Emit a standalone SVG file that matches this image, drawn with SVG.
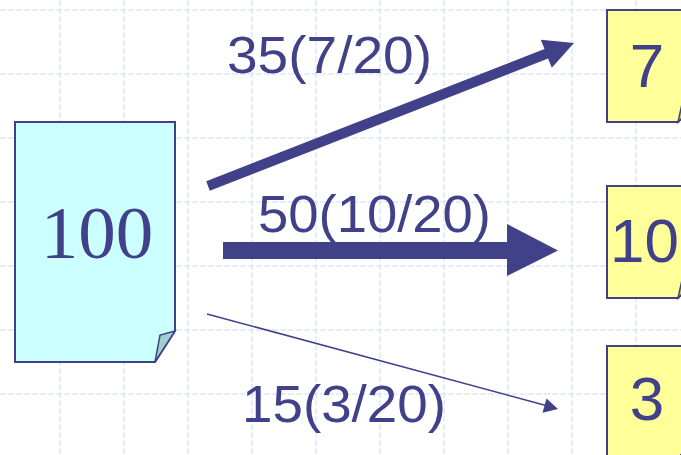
<svg xmlns="http://www.w3.org/2000/svg" width="681" height="455" viewBox="0 0 681 455">
<style>
.grid line{stroke:#cddbfa;stroke-width:1;stroke-dasharray:6 2}
.doc{stroke:#414189;stroke-width:2;stroke-linejoin:miter}
.cyan{fill:#ccffff}
.yel{fill:#ffff99}
.fold{fill:#9fcfcf;stroke:#414189;stroke-width:1.5}
.foldy{fill:#cccc66;stroke:#414189;stroke-width:1.5}
.lbl{font-family:"Liberation Sans",Arial,sans-serif;font-size:51px;fill:#414189}
.num{font-family:"Liberation Sans",Arial,sans-serif;font-size:62px;fill:#414189;text-anchor:middle}
.ser{font-family:"Liberation Serif","Times New Roman",serif;font-size:75px;fill:#414189;text-anchor:middle}
.arr{fill:#414189}
</style>
<rect width="681" height="455" fill="#ffffff"/>
<g class="grid">
<line x1="60" y1="0" x2="60" y2="455"/><line x1="124" y1="0" x2="124" y2="455"/><line x1="188" y1="0" x2="188" y2="455"/><line x1="252" y1="0" x2="252" y2="455"/><line x1="316" y1="0" x2="316" y2="455"/><line x1="380" y1="0" x2="380" y2="455"/><line x1="444" y1="0" x2="444" y2="455"/><line x1="508" y1="0" x2="508" y2="455"/><line x1="572" y1="0" x2="572" y2="455"/><line x1="636" y1="0" x2="636" y2="455"/>
<line x1="0" y1="10" x2="681" y2="10"/><line x1="0" y1="74" x2="681" y2="74"/><line x1="0" y1="138" x2="681" y2="138"/><line x1="0" y1="202" x2="681" y2="202"/><line x1="0" y1="266" x2="681" y2="266"/><line x1="0" y1="330" x2="681" y2="330"/><line x1="0" y1="394" x2="681" y2="394"/>
</g>
<g id="node-100">
<path class="doc cyan" d="M15,122 H175 V331 L155,362 H15 Z"/>
<path class="fold" d="M155,362 L160,335 L175,331 Z"/>
<text class="ser" x="97" y="258">100</text>
</g>
<g id="node-7">
<path class="doc yel" d="M607,10 H700 V100 L678,122 H607 Z"/>
<path class="foldy" d="M678,122 L682,104 L700,100 Z"/>
<text class="num" x="647" y="87">7</text>
</g>
<g id="node-10">
<path class="doc yel" d="M607,186 H700 V276 L678,298 H607 Z"/>
<path class="foldy" d="M678,298 L682,280 L700,276 Z"/>
<text class="num" x="610" y="262" style="text-anchor:start">10</text>
</g>
<g id="node-3">
<path class="doc yel" d="M607,346 H700 V436 L678,458 H607 Z"/>
<text class="num" x="647" y="420">3</text>
</g>
<g id="connectors">
<polygon class="arr" points="209.8,190.7 206.2,181.3 544.5,49.1 540.8,39.8 574,43 551.8,67.8 548.1,58.5"/>
<polygon class="arr" points="223,242 507,242 507,224 558,250.5 507,276 507,259 223,259"/>
<line x1="207" y1="314" x2="546" y2="405.5" stroke="#414189" stroke-width="1.6"/>
<polygon class="arr" points="558,409 542.5,412.8 546.5,398.5"/>
</g>
<g id="labels">
<text class="lbl" x="227" y="73" textLength="205" lengthAdjust="spacingAndGlyphs">35(7/20)</text>
<text class="lbl" x="258" y="232" textLength="233" lengthAdjust="spacingAndGlyphs">50(10/20)</text>
<text class="lbl" x="242" y="422" textLength="204" lengthAdjust="spacingAndGlyphs">15(3/20)</text>
</g>
</svg>
